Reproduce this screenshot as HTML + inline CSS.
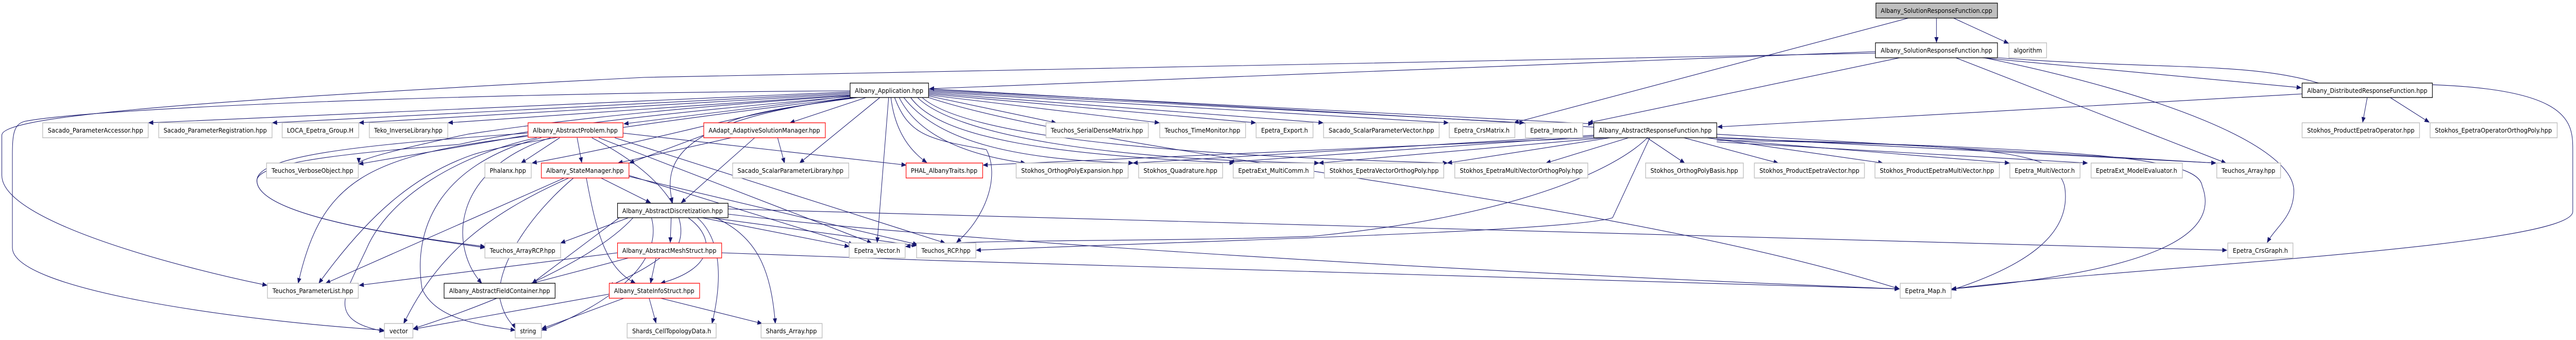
<!DOCTYPE html>
<html><head><meta charset="utf-8"><style>
html,body{margin:0;padding:0;background:#fff;width:100%;height:100%;overflow:hidden;}
svg{display:block;position:absolute;left:0;top:0;width:100%;height:100%;}
text{font-family:"DejaVu Sans","Liberation Sans",sans-serif;font-size:12.5px;fill:#000;}
.e{fill:none;stroke:#191970;stroke-width:1.1;}
.g{fill:#fff;stroke:#bfbfbf;stroke-width:1.5;}
.b{fill:#fff;stroke:#000;stroke-width:1.3;}
.r{fill:#fff;stroke:#ff0000;stroke-width:1.3;}
.root{fill:#bfbfbf;stroke:#000;stroke-width:1.3;}
</style></head><body>
<svg viewBox="0 0 5615 659" preserveAspectRatio="none" xmlns="http://www.w3.org/2000/svg" overflow="hidden">
<defs><marker id="a" markerWidth="11" markerHeight="9" refX="10" refY="4.5" orient="auto" markerUnits="userSpaceOnUse"><path d="M0,0 L11,4.5 L0,9 z" fill="#191970"/></marker></defs>
<g class="e" marker-end="url(#a)">
<path d="M4221,35 L4221,82"/>
<path d="M4258,35 L4378,84"/>
<path d="M4160,35 L3300,238"/>
<path d="M4088,100 L2026,172"/>
<path d="M4088,103 L1404,150 C300,200 4,230 4,262 L4,340 C4,430 400,520 582,553"/>
<path d="M4141,112 L3462,238"/>
<path d="M4320,112 L5016,170"/>
<path d="M4263,112 L4852,316"/>
<path d="M4325,112 C4700,180 5000,280 5000,370 C5000,420 4960,440 4942,470"/>
<path d="M4355,112 C4700,135 4900,120 5050,160 C5100,172 5150,165 5190,163 C5600,160 5608,230 5608,290 L5608,410 C5608,480 4600,520 4254,560"/>
<path d="M5160,189 L5150,237"/>
<path d="M5210,189 L5295,237"/>
<path d="M5018,182 L3744,246"/>
<path d="M3500,267 L2875,316"/>
<path d="M3510,267 L3155,316"/>
<path d="M3550,267 L3370,316"/>
<path d="M3590,267 L3672,316"/>
<path d="M3670,267 L3876,316"/>
<path d="M3720,267 L4104,316"/>
<path d="M3742,270 L4380,316"/>
<path d="M3742,275 L4550,316"/>
<path d="M3742,266 L4830,316"/>
<path d="M3742,268 C4500,290 4790,300 4800,360 C4830,430 4780,520 4254,560"/>
<path d="M3742,272 C4400,280 4480,300 4500,360 C4520,460 4400,520 4254,562"/>
<path d="M3596,267 L3515,422 C3420,450 2500,470 2128,485"/>
<path d="M3591,267 C3520,330 3300,420 2860,458 C2500,470 2100,462 1974,478"/>
<path d="M3474,267 L2143,320"/>
<path d="M3474,264 L2680,314"/>
<path d="M3474,262 L2470,316"/>
<path d="M1853,178 L324,238"/>
<path d="M1853,180 L594,238"/>
<path d="M1853,182 L783,238"/>
<path d="M1853,184 L977,238"/>
<path d="M1853,186 L1360,240"/>
<path d="M1888,189 L1722,238"/>
<path d="M1918,189 L1743,316"/>
<path d="M1937,189 L1912,470"/>
<path d="M1942,189 C1950,250 1980,290 2020,315"/>
<path d="M1950,189 C1980,260 2020,270 2150,290 C2180,340 2150,420 2085,470"/>
<path d="M1960,189 C2000,260 2100,300 2235,316"/>
<path d="M1970,189 C2040,270 2200,310 2470,316"/>
<path d="M1985,189 C2050,270 2300,300 2690,316"/>
<path d="M2000,189 C2080,260 2400,310 2875,316"/>
<path d="M2010,189 C2100,260 2500,300 3155,316"/>
<path d="M2024,186 L2302,238"/>
<path d="M2024,184 L2527,238"/>
<path d="M2024,182 L2737,238"/>
<path d="M2024,180 L2884,238"/>
<path d="M2024,178 L3157,238"/>
<path d="M2024,176 L3322,238"/>
<path d="M2024,174 L3472,240"/>
<path d="M2024,172 L4830,316"/>
<path d="M2024,189 C2400,300 3500,380 4140,560"/>
<path d="M1865,189 C1500,230 1440,300 1466,393"/>
<path d="M1870,189 C1700,210 1600,220 1540,260 L1372,316"/>
<path d="M1860,189 C1600,220 1500,260 1160,316"/>
<path d="M1855,185 C1300,220 1100,250 1020,260 C860,290 782,310 782,316"/>
<path d="M1855,187 C1300,230 1100,260 1000,280 C700,300 560,320 560,350 C560,420 900,460 1057,480"/>
<path d="M1855,189 C1300,250 1100,280 1030,300 C900,340 800,420 695,549"/>
<path d="M1853,176 C1000,180 200,210 55,235 C30,240 27,260 27,300 L27,480 C27,560 500,620 837,640"/>
<path d="M1150,262 L782,318"/>
<path d="M1150,264 C800,300 700,350 650,549"/>
<path d="M1220,267 L1136,316"/>
<path d="M1258,267 L1268,315"/>
<path d="M1150,258 C800,280 560,300 560,350 C560,420 900,460 1057,478"/>
<path d="M1170,267 C1000,300 850,380 800,480 C760,560 700,620 837,642"/>
<path d="M1180,267 C950,320 900,450 920,560 C950,620 1050,630 1123,640"/>
<path d="M1200,267 C980,330 980,480 1050,549"/>
<path d="M1290,267 C1450,340 1500,420 1480,470 C1420,520 1360,540 1328,555"/>
<path d="M1358,258 L1975,320"/>
<path d="M1305,267 L1900,471"/>
<path d="M1340,267 L2060,471"/>
<path d="M1230,345 L710,549"/>
<path d="M1240,345 C1050,420 950,500 880,627"/>
<path d="M1250,345 C1150,420 1080,520 1090,580 C1100,620 1120,630 1123,637"/>
<path d="M1278,345 C1300,450 1320,520 1385,549"/>
<path d="M1310,345 L1418,393"/>
<path d="M1371,340 L1860,474"/>
<path d="M1371,342 L2000,474"/>
<path d="M1695,267 L1710,316"/>
<path d="M1645,267 L1485,393"/>
<path d="M1594,267 L1347,316"/>
<path d="M1463,422 L1461,470"/>
<path d="M1500,422 C1560,460 1560,520 1440,549"/>
<path d="M1530,422 L1851,478"/>
<path d="M1550,422 L1998,476"/>
<path d="M1370,422 L1222,471"/>
<path d="M1587,405 L4854,485"/>
<path d="M1587,415 C2000,460 3000,520 4140,560"/>
<path d="M1520,422 C1580,470 1570,560 1552,627"/>
<path d="M1560,422 C1650,460 1680,520 1690,627"/>
<path d="M1380,422 C1300,500 1100,580 901,637"/>
<path d="M1420,422 C1450,520 1300,600 1181,640"/>
<path d="M1350,422 L1160,549"/>
<path d="M1430,500 L1418,549"/>
<path d="M1346,490 L783,553"/>
<path d="M1370,500 L1160,549"/>
<path d="M1573,490 C2500,520 3500,550 4140,560"/>
<path d="M1328,570 L901,638"/>
<path d="M1360,578 L1181,637"/>
<path d="M1415,578 L1430,626"/>
<path d="M1440,578 L1661,627"/>
</g>
<g>
<rect class="root" x="4089" y="6" width="265" height="29"/>
<rect class="b" x="4088" y="83" width="266" height="29"/>
<rect class="g" x="4379" y="83" width="82" height="29"/>
<rect class="b" x="1853" y="161" width="171" height="28"/>
<rect class="b" x="5018" y="161" width="284" height="28"/>
<rect class="g" x="93" y="238" width="230" height="29"/>
<rect class="g" x="346" y="238" width="247" height="29"/>
<rect class="g" x="615" y="238" width="167" height="29"/>
<rect class="g" x="805" y="238" width="171" height="29"/>
<rect class="r" x="1151" y="238" width="207" height="28"/>
<rect class="r" x="1534" y="238" width="265" height="29"/>
<rect class="g" x="2280" y="238" width="223" height="29"/>
<rect class="g" x="2528" y="238" width="187" height="29"/>
<rect class="g" x="2738" y="238" width="124" height="29"/>
<rect class="g" x="2885" y="238" width="252" height="29"/>
<rect class="g" x="3159" y="238" width="143" height="29"/>
<rect class="g" x="3325" y="238" width="125" height="29"/>
<rect class="b" x="3474" y="238" width="268" height="29"/>
<rect class="g" x="5018" y="238" width="256" height="29"/>
<rect class="g" x="5297" y="238" width="277" height="29"/>
<rect class="g" x="581" y="316" width="200" height="29"/>
<rect class="g" x="1057" y="316" width="101" height="29"/>
<rect class="r" x="1180" y="316" width="191" height="29"/>
<rect class="g" x="1597" y="316" width="253" height="29"/>
<rect class="r" x="1975" y="316" width="167" height="29"/>
<rect class="g" x="2215" y="316" width="244" height="29"/>
<rect class="g" x="2482" y="316" width="183" height="29"/>
<rect class="g" x="2688" y="316" width="176" height="29"/>
<rect class="g" x="2887" y="316" width="260" height="29"/>
<rect class="g" x="3171" y="316" width="290" height="29"/>
<rect class="g" x="3587" y="316" width="213" height="29"/>
<rect class="g" x="3824" y="316" width="240" height="29"/>
<rect class="g" x="4087" y="316" width="271" height="29"/>
<rect class="g" x="4381" y="316" width="153" height="29"/>
<rect class="g" x="4558" y="316" width="199" height="29"/>
<rect class="g" x="4832" y="316" width="139" height="29"/>
<rect class="b" x="1346" y="394" width="241" height="28"/>
<rect class="g" x="1057" y="471" width="165" height="29"/>
<rect class="r" x="1346" y="471" width="227" height="29"/>
<rect class="g" x="1851" y="471" width="122" height="29"/>
<rect class="g" x="1998" y="471" width="129" height="29"/>
<rect class="g" x="4856" y="471" width="142" height="29"/>
<rect class="g" x="583" y="549" width="198" height="29"/>
<rect class="b" x="968" y="549" width="242" height="29"/>
<rect class="r" x="1328" y="549" width="197" height="29"/>
<rect class="g" x="4142" y="549" width="111" height="29"/>
<rect class="g" x="838" y="627" width="62" height="28"/>
<rect class="g" x="1123" y="627" width="57" height="28"/>
<rect class="g" x="1367" y="627" width="194" height="28"/>
<rect class="g" x="1659" y="627" width="133" height="28"/>
</g>
<g text-anchor="middle">
<text x="4221" y="25" textLength="243" lengthAdjust="spacingAndGlyphs">Albany_SolutionResponseFunction.cpp</text>
<text x="4221" y="102" textLength="243" lengthAdjust="spacingAndGlyphs">Albany_SolutionResponseFunction.hpp</text>
<text x="4420" y="102" textLength="62" lengthAdjust="spacingAndGlyphs">algorithm</text>
<text x="1938" y="180" textLength="149" lengthAdjust="spacingAndGlyphs">Albany_Application.hpp</text>
<text x="5160" y="180" textLength="262" lengthAdjust="spacingAndGlyphs">Albany_DistributedResponseFunction.hpp</text>
<text x="208" y="257" textLength="208" lengthAdjust="spacingAndGlyphs">Sacado_ParameterAccessor.hpp</text>
<text x="469" y="257" textLength="225" lengthAdjust="spacingAndGlyphs">Sacado_ParameterRegistration.hpp</text>
<text x="698" y="257" textLength="145" lengthAdjust="spacingAndGlyphs">LOCA_Epetra_Group.H</text>
<text x="890" y="257" textLength="149" lengthAdjust="spacingAndGlyphs">Teko_InverseLibrary.hpp</text>
<text x="1254" y="257" textLength="185" lengthAdjust="spacingAndGlyphs">Albany_AbstractProblem.hpp</text>
<text x="1666" y="257" textLength="243" lengthAdjust="spacingAndGlyphs">AAdapt_AdaptiveSolutionManager.hpp</text>
<text x="2391" y="257" textLength="201" lengthAdjust="spacingAndGlyphs">Teuchos_SerialDenseMatrix.hpp</text>
<text x="2621" y="257" textLength="165" lengthAdjust="spacingAndGlyphs">Teuchos_TimeMonitor.hpp</text>
<text x="2800" y="257" textLength="102" lengthAdjust="spacingAndGlyphs">Epetra_Export.h</text>
<text x="3011" y="257" textLength="230" lengthAdjust="spacingAndGlyphs">Sacado_ScalarParameterVector.hpp</text>
<text x="3230" y="257" textLength="121" lengthAdjust="spacingAndGlyphs">Epetra_CrsMatrix.h</text>
<text x="3387" y="257" textLength="103" lengthAdjust="spacingAndGlyphs">Epetra_Import.h</text>
<text x="3608" y="257" textLength="246" lengthAdjust="spacingAndGlyphs">Albany_AbstractResponseFunction.hpp</text>
<text x="5146" y="257" textLength="234" lengthAdjust="spacingAndGlyphs">Stokhos_ProductEpetraOperator.hpp</text>
<text x="5435" y="257" textLength="255" lengthAdjust="spacingAndGlyphs">Stokhos_EpetraOperatorOrthogPoly.hpp</text>
<text x="681" y="335" textLength="178" lengthAdjust="spacingAndGlyphs">Teuchos_VerboseObject.hpp</text>
<text x="1107" y="335" textLength="79" lengthAdjust="spacingAndGlyphs">Phalanx.hpp</text>
<text x="1275" y="335" textLength="169" lengthAdjust="spacingAndGlyphs">Albany_StateManager.hpp</text>
<text x="1723" y="335" textLength="231" lengthAdjust="spacingAndGlyphs">Sacado_ScalarParameterLibrary.hpp</text>
<text x="2058" y="335" textLength="145" lengthAdjust="spacingAndGlyphs">PHAL_AlbanyTraits.hpp</text>
<text x="2337" y="335" textLength="222" lengthAdjust="spacingAndGlyphs">Stokhos_OrthogPolyExpansion.hpp</text>
<text x="2573" y="335" textLength="161" lengthAdjust="spacingAndGlyphs">Stokhos_Quadrature.hpp</text>
<text x="2776" y="335" textLength="154" lengthAdjust="spacingAndGlyphs">EpetraExt_MultiComm.h</text>
<text x="3017" y="335" textLength="238" lengthAdjust="spacingAndGlyphs">Stokhos_EpetraVectorOrthogPoly.hpp</text>
<text x="3316" y="335" textLength="268" lengthAdjust="spacingAndGlyphs">Stokhos_EpetraMultiVectorOrthogPoly.hpp</text>
<text x="3693" y="335" textLength="191" lengthAdjust="spacingAndGlyphs">Stokhos_OrthogPolyBasis.hpp</text>
<text x="3944" y="335" textLength="218" lengthAdjust="spacingAndGlyphs">Stokhos_ProductEpetraVector.hpp</text>
<text x="4222" y="335" textLength="249" lengthAdjust="spacingAndGlyphs">Stokhos_ProductEpetraMultiVector.hpp</text>
<text x="4457" y="335" textLength="131" lengthAdjust="spacingAndGlyphs">Epetra_MultiVector.h</text>
<text x="4657" y="335" textLength="177" lengthAdjust="spacingAndGlyphs">EpetraExt_ModelEvaluator.h</text>
<text x="4901" y="335" textLength="117" lengthAdjust="spacingAndGlyphs">Teuchos_Array.hpp</text>
<text x="1466" y="413" textLength="219" lengthAdjust="spacingAndGlyphs">Albany_AbstractDiscretization.hpp</text>
<text x="1139" y="490" textLength="143" lengthAdjust="spacingAndGlyphs">Teuchos_ArrayRCP.hpp</text>
<text x="1459" y="490" textLength="205" lengthAdjust="spacingAndGlyphs">Albany_AbstractMeshStruct.hpp</text>
<text x="1912" y="490" textLength="100" lengthAdjust="spacingAndGlyphs">Epetra_Vector.h</text>
<text x="2062" y="490" textLength="107" lengthAdjust="spacingAndGlyphs">Teuchos_RCP.hpp</text>
<text x="4927" y="490" textLength="120" lengthAdjust="spacingAndGlyphs">Epetra_CrsGraph.h</text>
<text x="682" y="568" textLength="176" lengthAdjust="spacingAndGlyphs">Teuchos_ParameterList.hpp</text>
<text x="1089" y="568" textLength="220" lengthAdjust="spacingAndGlyphs">Albany_AbstractFieldContainer.hpp</text>
<text x="1426" y="568" textLength="175" lengthAdjust="spacingAndGlyphs">Albany_StateInfoStruct.hpp</text>
<text x="4197" y="568" textLength="89" lengthAdjust="spacingAndGlyphs">Epetra_Map.h</text>
<text x="869" y="646" textLength="40" lengthAdjust="spacingAndGlyphs">vector</text>
<text x="1151" y="646" textLength="35" lengthAdjust="spacingAndGlyphs">string</text>
<text x="1464" y="646" textLength="172" lengthAdjust="spacingAndGlyphs">Shards_CellTopologyData.h</text>
<text x="1725" y="646" textLength="111" lengthAdjust="spacingAndGlyphs">Shards_Array.hpp</text>
</g>
</svg>
</body></html>
